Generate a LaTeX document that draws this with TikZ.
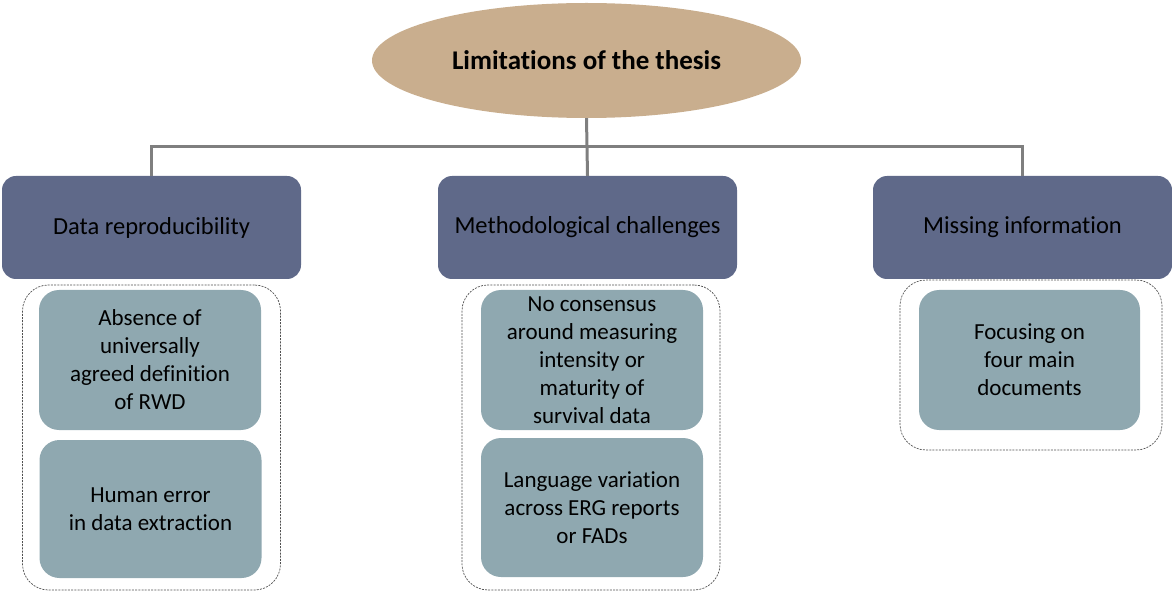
\documentclass[tikz,border=0pt]{standalone}
\usepackage{fontspec}
\setmainfont{Carlito}[Ligatures=CommonOff]
\usetikzlibrary{shapes.geometric}
\definecolor{tan}{HTML}{C9AE8E}
\definecolor{slate}{HTML}{5F6989}
\definecolor{steel}{HTML}{8FA8B0}
\definecolor{linkgray}{HTML}{7F7F7F}
\definecolor{dashgray}{HTML}{505050}
\tikzset{
  rootnode/.style={ellipse, fill=tan, minimum width=429pt, minimum height=115pt,
    inner sep=0pt, font=\fontsize{27}{32}\selectfont\bfseries},
  headbox/.style={rectangle, rounded corners=14pt, fill=slate, minimum width=299pt,
    minimum height=103pt, inner sep=0pt, font=\fontsize{24.5}{29}\selectfont},
  itembox/.style={rectangle, rounded corners=20pt, fill=steel, minimum width=222pt,
    inner sep=0pt, align=center, font=\fontsize{23}{28}\selectfont},
  groupbox/.style={rectangle, rounded corners=26pt, draw=dashgray, line width=0.7pt,
    dash pattern=on 2pt off 1.2pt, inner sep=0pt},
  link/.style={draw=linkgray, line width=3pt}
}
\begin{document}
\begin{tikzpicture}[x=1pt, y=-1pt]
\useasboundingbox (0,0) rectangle (1172,593);

% dashed group frames
\node[groupbox, minimum width=258pt, minimum height=305pt] (gL) at (151.5,437.5) {};
\node[groupbox, minimum width=258pt, minimum height=305pt] (gM) at (591,437.5) {};
\node[groupbox, minimum width=262pt, minimum height=170pt] (gR) at (1031,365) {};

% root
\node[rootnode] (root) at (586.5,60.5) {Limitations of the thesis};

% category headers
\node[headbox] (hL) at (151.5,227.5) {Data reproducibility};
\node[headbox] (hM) at (587.5,227.5) {Methodological challenges};
\node[headbox] (hR) at (1022.5,227.5) {Missing information};

% connectors
\coordinate (bus) at (586.5,147);
\draw[link] (root.south) -- (hM.north);
\draw[link] (hL.north) |- (bus) -| (hR.north);

% items
\node[itembox, minimum height=140pt] (iL1) at (150,360)
  {Absence of\\universally\\agreed definition\\of RWD};
\node[itembox, minimum height=138pt] (iL2) at (150.5,509)
  {Human error\\in data extraction};
\node[itembox, minimum height=140pt] (iM1) at (592,360)
  {No consensus\\around measuring\\intensity or\\maturity of\\survival data};
\node[itembox, minimum height=139pt] (iM2) at (592,507.5)
  {Language variation\\across ERG reports\\or FADs};
\node[itembox, minimum height=140pt, minimum width=221pt] (iR1) at (1029.5,360)
  {Focusing on\\four main\\documents};
\end{tikzpicture}
\end{document}
